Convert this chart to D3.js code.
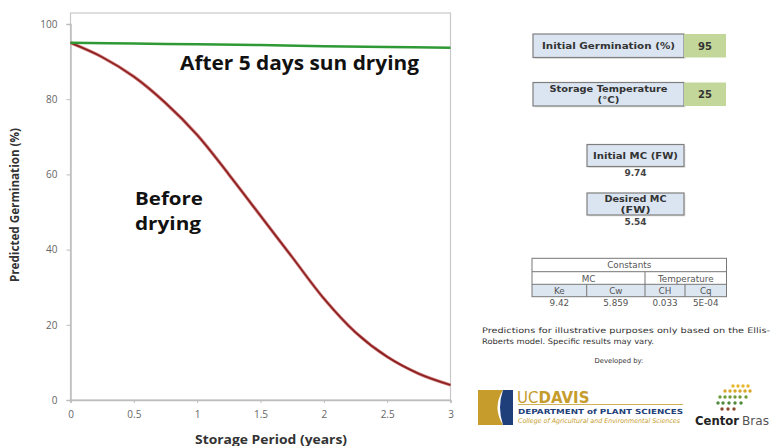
<!DOCTYPE html>
<html lang="en">
<head>
  <meta charset="UTF-8">
  <title>Predicted Germination vs Storage Period</title>
  <script src="https://d3js.org/d3.v7.min.js"></script>
  <style>
    body { margin: 0; background: #fff; }
    svg { display: block; }
    .tick text { font-family: "Open Sans", sans-serif; font-size: 10px; fill: #666; }
    .panel text { font-family: "DejaVu Sans", Verdana, sans-serif; }
  </style>
</head>
<body>
  <svg width="771" height="446"></svg>

  <script>
    // Curve data
    const years = [0, 0.25, 0.5, 0.75, 1, 1.25, 1.5, 1.75, 2, 2.25, 2.5, 2.75, 3];
    const beforeDrying = [95, 91.2, 86, 79, 70.5, 60, 49, 38, 27, 18, 11.5, 7, 4];
    const afterYears = [0, 0.5, 1, 1.5, 2, 2.5, 3];
    const afterDrying = [95, 94.8, 94.6, 94.4, 94.1, 93.9, 93.7];
    const xTicks = [0, 0.5, 1, 1.5, 2, 2.5, 3];
    const yTicks = [0, 20, 40, 60, 80, 100];

    // Side panel values
    const inputLabels = [["Initial Germination (%)"], ["Storage Temperature", "(°C)"]];
    const inputValues = ["95", "25"];
    const mcLabels = [["Initial MC (FW)"], ["Desired MC", "(FW)"]];
    const mcValues = ["9.74", "5.54"];
    const constantNames = ["Ke", "Cw", "CH", "Cq"];
    const constantValues = ["9.42", "5.859", "0.033", "5E-04"];

    const svg = d3.select("svg");
    const margin = { top: 13, left: 70.5 };

    const x = d3.scaleLinear().domain([0, 3]).range([margin.left, 450.5]);
    const y = d3.scaleLinear().domain([0, 100]).range([400, 24]);

    // plot frame
    svg.append("rect")
      .attr("x", x(0)).attr("y", margin.top)
      .attr("width", x(3) - x(0)).attr("height", y(0) - margin.top)
      .attr("fill", "none").attr("stroke", "#c8c8c8").attr("stroke-width", 1.2);

    // axes
    const xAxis = svg.append("g")
      .attr("transform", `translate(0,${y(0)})`)
      .call(d3.axisBottom(x).tickValues(xTicks).tickSize(3).tickPadding(8).tickFormat(d3.format("")));
    const yAxis = svg.append("g")
      .attr("transform", `translate(${x(0)},0)`)
      .call(d3.axisLeft(y).tickValues(yTicks).tickSize(4).tickPadding(9));
    [xAxis, yAxis].forEach(g => {
      g.select(".domain").attr("stroke", "#bdbdbd").attr("stroke-width", 1.5);
      g.selectAll(".tick line").attr("stroke", "#bdbdbd");
    });

    // axis titles
    svg.append("text")
      .attr("x", 271).attr("y", 444)
      .attr("text-anchor", "middle")
      .attr("font-family", "Open Sans, sans-serif").attr("font-weight", "bold")
      .attr("font-size", 11.5).attr("fill", "#333")
      .attr("textLength", 152).attr("lengthAdjust", "spacingAndGlyphs")
      .text("Storage Period (years)");
    svg.append("text")
      .attr("transform", "translate(19,205) rotate(-90)")
      .attr("text-anchor", "middle")
      .attr("font-family", "Open Sans, sans-serif").attr("font-weight", "bold")
      .attr("font-size", 11.5).attr("fill", "#333")
      .attr("textLength", 154).attr("lengthAdjust", "spacingAndGlyphs")
      .text("Predicted Germination (%)");

    // curves
    const line = d3.line().curve(d3.curveCatmullRom.alpha(0.5));
    const beforePts = years.map((t, i) => [x(t), y(beforeDrying[i])]);
    svg.append("path")
      .attr("d", line(beforePts))
      .attr("fill", "none").attr("stroke", "#cf7b7b").attr("stroke-width", 3.2);
    svg.append("path")
      .attr("d", line(beforePts))
      .attr("fill", "none").attr("stroke", "#8b1f1f").attr("stroke-width", 1.6);
    svg.append("path")
      .attr("d", line(afterYears.map((t, i) => [x(t), y(afterDrying[i])])))
      .attr("fill", "none").attr("stroke", "#2f9a35").attr("stroke-width", 2.6);

    // annotations
    const note = svg.append("g")
      .attr("font-family", "Open Sans, sans-serif").attr("font-weight", "bold").attr("fill", "#111");
    note.append("text").attr("x", 180).attr("y", 70).attr("font-size", 19)
      .attr("textLength", 239).attr("lengthAdjust", "spacingAndGlyphs")
      .text("After 5 days sun drying");
    note.append("text").attr("x", 135).attr("y", 205).attr("font-size", 18.5)
      .attr("textLength", 68).attr("lengthAdjust", "spacingAndGlyphs").text("Before");
    note.append("text").attr("x", 135).attr("y", 230).attr("font-size", 18.5)
      .attr("textLength", 66).attr("lengthAdjust", "spacingAndGlyphs").text("drying");

    // ---- side panel ----
    const panel = svg.append("g").attr("class", "panel");
    const boxFill = "#dbe5f1", boxStroke = "#7f7f7f", valFill = "#c4d79b";

    // lines: [text, width]
    function labelBox(g, x0, y0, w, h, lines) {
      g.append("rect").attr("x", x0 + 1.5).attr("y", y0 + 1.5).attr("width", w).attr("height", h)
        .attr("fill", "#e6e6e6");
      g.append("rect").attr("x", x0).attr("y", y0).attr("width", w).attr("height", h)
        .attr("fill", boxFill).attr("stroke", boxStroke).attr("stroke-width", 1.2);
      const lh = 10.8;
      const startY = y0 + h / 2 + 3.2 - (lines.length - 1) * lh / 2;
      lines.forEach(([s, tw], i) => g.append("text")
        .attr("x", x0 + w / 2).attr("y", startY + i * lh).attr("text-anchor", "middle")
        .attr("font-size", lines.length > 1 ? 8.2 : 8.5).attr("font-weight", "bold").attr("fill", "#333")
        .attr("textLength", tw).attr("lengthAdjust", "spacingAndGlyphs")
        .text(s));
    }

    const inputWidths = [[133], [118, 22]];
    [34, 82.5].forEach((y0, i) => {
      labelBox(panel, 533, y0, 151, 23.5, inputLabels[i].map((s, j) => [s, inputWidths[i][j]]));
      panel.append("rect").attr("x", 684).attr("y", y0).attr("width", 42).attr("height", 23.5)
        .attr("fill", valFill);
      panel.append("text").attr("x", 705).attr("y", y0 + 15.5).attr("text-anchor", "middle")
        .attr("font-size", 10).attr("font-weight", "bold").attr("fill", "#333").text(inputValues[i]);
    });

    const mcWidths = [[85], [62, 30]];
    [144.5, 193].forEach((y0, i) => {
      labelBox(panel, 587, y0, 97, 22, mcLabels[i].map((s, j) => [s, mcWidths[i][j]]));
      panel.append("text").attr("x", 635.5).attr("y", y0 + 31.5).attr("text-anchor", "middle")
        .attr("font-size", 9).attr("font-weight", "bold").attr("fill", "#444").text(mcValues[i]);
    });

    // constants table
    const tb = panel.append("g").attr("fill", "none");
    const tl = 532, tr = 726.5, rows = [258.3, 271.7, 284.3, 296.7];
    const cols = [tl, 586.7, 645, 685, tr];
    tb.append("rect").attr("x", tl).attr("y", rows[2]).attr("width", tr - tl).attr("height", rows[3] - rows[2])
      .attr("fill", "#dce6f1");
    tb.append("rect").attr("x", tl).attr("y", rows[0]).attr("width", tr - tl).attr("height", rows[3] - rows[0])
      .attr("stroke", "#777").attr("stroke-width", 1);
    [rows[1], rows[2]].forEach(r => tb.append("line").attr("x1", tl).attr("x2", tr).attr("y1", r).attr("y2", r)
      .attr("stroke", "#777"));
    tb.append("line").attr("x1", cols[2]).attr("x2", cols[2]).attr("y1", rows[1]).attr("y2", rows[3]).attr("stroke", "#777");
    [cols[1], cols[3]].forEach(c => tb.append("line").attr("x1", c).attr("x2", c).attr("y1", rows[2]).attr("y2", rows[3])
      .attr("stroke", "#777"));
    const tt = panel.append("g").attr("font-size", 8.8).attr("fill", "#555").attr("text-anchor", "middle");
    tt.append("text").attr("x", (tl + tr) / 2).attr("y", rows[1] - 3.3).text("Constants");
    tt.append("text").attr("x", (cols[0] + cols[2]) / 2).attr("y", rows[2] - 2.8).text("MC");
    tt.append("text").attr("x", (cols[2] + cols[4]) / 2).attr("y", rows[2] - 2.8).text("Temperature");
    constantNames.forEach((n, i) => {
      const cx = (cols[i] + cols[i + 1]) / 2;
      tt.append("text").attr("x", cx).attr("y", rows[3] - 2.8).text(n);
      tt.append("text").attr("x", cx).attr("y", rows[3] + 9.5).text(constantValues[i]);
    });

    // footnote
    const foot = panel.append("g").attr("font-size", 7.6).attr("fill", "#333");
    foot.append("text").attr("x", 482).attr("y", 333)
      .attr("textLength", 288).attr("lengthAdjust", "spacingAndGlyphs")
      .text("Predictions for illustrative purposes only based on the Ellis-");
    foot.append("text").attr("x", 482).attr("y", 343.5)
      .attr("textLength", 172).attr("lengthAdjust", "spacingAndGlyphs")
      .text("Roberts model. Specific results may vary.");
    foot.append("text").attr("x", 619).attr("y", 362.5).attr("text-anchor", "middle")
      .attr("font-size", 6.8).text("Developed by:");

    // UC Davis logo (approximate)
    const gold = "#c69c2d", blue = "#1f3f7a";
    const logo = panel.append("g");
    logo.append("path")
      .attr("d", "M478,390 L503,390 Q492,407.5 503,425 L478,425 Z")
      .attr("fill", gold);
    logo.append("path")
      .attr("d", "M503,390 L513,390 L513,425 L503,425 Q497,407.5 503,390 Z")
      .attr("fill", blue);
    logo.append("text").attr("x", 517).attr("y", 402.5)
      .attr("font-family", "Liberation Sans, sans-serif").attr("font-size", 15).attr("fill", gold)
      .text("UC")
      .append("tspan").attr("font-weight", "bold").text("DAVIS");
    logo.append("line").attr("x1", 518).attr("x2", 683).attr("y1", 404.5).attr("y2", 404.5)
      .attr("stroke", gold).attr("stroke-width", 0.8);
    logo.append("text").attr("x", 518).attr("y", 413.5)
      .attr("font-size", 7).attr("font-weight", "bold").attr("fill", blue)
      .attr("textLength", 165).attr("lengthAdjust", "spacingAndGlyphs")
      .text("DEPARTMENT of PLANT SCIENCES");
    logo.append("text").attr("x", 518).attr("y", 423)
      .attr("font-family", "Liberation Serif, serif").attr("font-style", "italic")
      .attr("font-size", 6.5).attr("fill", gold)
      .attr("textLength", 162).attr("lengthAdjust", "spacingAndGlyphs")
      .text("College of Agricultural and Environmental Sciences");

    // Centor Brasil logo (approximate)
    const dotRows = [
      { y: 386, xs: [733, 738, 743, 748], c: "#e8b72c" },
      { y: 391, xs: [725, 730, 735, 740, 745, 750], c: "#d9a52a" },
      { y: 397, xs: [720, 725, 730, 735, 740, 746], c: "#6f9a3a" },
      { y: 403, xs: [718, 723, 729, 735, 741], c: "#4f8a3c" },
      { y: 409, xs: [722, 728, 734], c: "#8a4a2e" }
    ];
    dotRows.forEach(r => r.xs.forEach(cx =>
      panel.append("circle").attr("cx", cx).attr("cy", r.y).attr("r", 1.7).attr("fill", r.c)));
    panel.append("text").attr("x", 695).attr("y", 425)
      .attr("font-family", "Open Sans, sans-serif").attr("font-size", 13).attr("font-weight", "bold")
      .attr("fill", "#222").attr("textLength", 44).attr("lengthAdjust", "spacingAndGlyphs")
      .text("Centor");
    panel.append("text").attr("x", 742).attr("y", 425)
      .attr("font-family", "Open Sans, sans-serif").attr("font-size", 13)
      .attr("fill", "#555").attr("textLength", 27).attr("lengthAdjust", "spacingAndGlyphs")
      .text("Bras");
  </script>
</body>
</html>
